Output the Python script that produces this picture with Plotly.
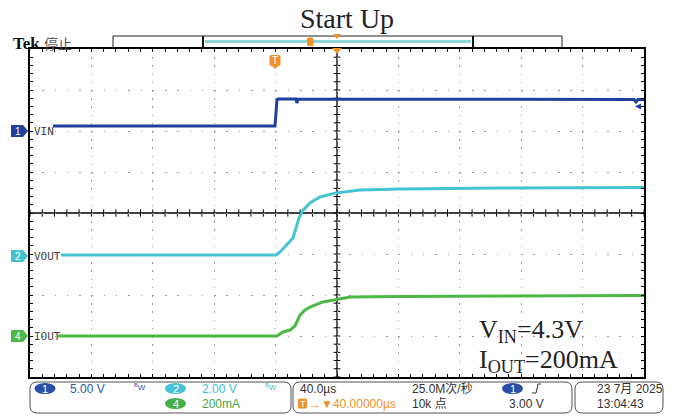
import plotly.graph_objects as go

# ---------------- data ----------------
# time in microseconds (40 us/div, screen centre = 0)
t_vin = [-185, -40.4, -39.1, -38.5, -26.7, -26.1, -25.4, 193.5, 194.8, 196.1, 200]
vin_v = [0.61, 0.61, 3.78, 3.90, 3.90, 3.41, 3.90, 3.85, 3.55, 3.85, 3.85]

t_vout = [-179.8, -39.7, -37.1, -32.6, -28.7, -26.7, -24.8, -22.1, -17.6, -11.1, -1.3, 15, 41, 106, 200]
vout_v = [0.05, 0.05, 0.20, 0.54, 0.88, 1.37, 1.85, 2.24, 2.59, 2.88, 3.07, 3.22, 3.27, 3.32, 3.34]

t_iout = [-181.8, -39.1, -35.2, -30.6, -27.4, -24.1, -20.8, -17.6, -9.1, 0, 8.5, 41, 200]
iout_ma = [0, 0, 19.5, 29, 49, 102, 127, 141, 166, 180, 190, 193, 198]

channel_names = ["VIN", "VOUT", "IOUT"]
channel_ids = ["1", "2", "4"]
channel_scales = [5.0, 2.0, 200.0]         # units per division
channel_offsets = [2.0, -1.05, -3.0]       # ground marker position, divisions
channel_colors = ["#1f3f9c", "#45c3d3", "#4cb848"]
scale_labels = ["5.00 V", "2.00 V", "200mA"]

title_text = "Start Up"
note_lines = ["V<sub>IN</sub>=4.3V", "I<sub>OUT</sub>=200mA"]
time_div = "40.0µs"
trig_pos = "40.00000µs"
sample_rate = "25.0M次/秒"
record_len = "10k 点"
trig_level = "3.00 V"
trig_level_v = 3.00
date_text = "23 7月 2025"
time_text = "13:04:43"

# ---------------- layout geometry ----------------
W, H = 676, 416
L, R, T, B = 30, 644, 49, 377


def px(x):
    return (x - L) / (R - L)


def py(y):
    return (B - y) / (B - T)


fig = go.Figure()

series = [(t_vin, vin_v), (t_vout, vout_v), (t_iout, iout_ma)]
for (tt, vv), name, sc, off, col in zip(series, channel_names, channel_scales, channel_offsets, channel_colors):
    fig.add_trace(go.Scatter(
        x=tt, y=[off + v / sc for v in vv], mode="lines", name=name,
        line=dict(color=col, width=3), hoverinfo="skip", showlegend=False))

shapes = []
annotations = []

# centre crosshair
shapes.append(dict(type="line", xref="x", yref="paper", x0=0, x1=0, y0=0, y1=1,
                   line=dict(color="black", width=1.3), layer="below"))
shapes.append(dict(type="line", xref="paper", yref="y", x0=0, x1=1, y0=0, y1=0,
                   line=dict(color="black", width=1.3), layer="below"))
for i in range(-25, 26):
    shapes.append(dict(type="line", xref="x", yref="y", x0=i * 8, x1=i * 8, y0=-0.09, y1=0.09,
                       line=dict(color="black", width=1), layer="below"))
for j in range(-20, 21):
    shapes.append(dict(type="line", xref="x", yref="y", x0=-2.2, x1=2.2, y0=j * 0.2, y1=j * 0.2,
                       line=dict(color="black", width=1), layer="below"))


def rrect(x0, y0, x1, y1, r):
    a, b, c, d = px(x0), px(x1), py(y0), py(y1)
    rx = r / (R - L)
    ry = r / (B - T)
    return (f"M{a+rx},{c} L{b-rx},{c} Q{b},{c} {b},{c-ry} L{b},{d+ry} Q{b},{d} {b-rx},{d} "
            f"L{a+rx},{d} Q{a},{d} {a},{d+ry} L{a},{c-ry} Q{a},{c} {a+rx},{c} Z")


def badge(cx, cy, num, col, w=21, h=11):
    shapes.append(dict(type="circle", xref="paper", yref="paper",
                       x0=px(cx - w / 2), x1=px(cx + w / 2), y0=py(cy + h / 2), y1=py(cy - h / 2),
                       fillcolor=col, line=dict(width=0)))
    annotations.append(dict(xref="paper", yref="paper", x=px(cx), y=py(cy), text=num, showarrow=False,
                            font=dict(family="Liberation Sans", size=11, color="white"),
                            xanchor="center", yanchor="middle"))


def text(x, y, s, col="#333", size=12, family="Liberation Sans", anchor="left"):
    annotations.append(dict(xref="paper", yref="paper", x=px(x), y=py(y), text=s, showarrow=False,
                            font=dict(family=family, size=size, color=col),
                            xanchor=anchor, yanchor="middle"))


# channel ground markers + labels
for name, cid, off, col in zip(channel_names, channel_ids, channel_offsets, channel_colors):
    a, b, c = px(11), px(23), px(28)
    h = 6 / 41
    shapes.append(dict(type="path", xref="paper", yref="y",
                       path=f"M{a},{off+h} L{b},{off+h} L{c},{off} L{b},{off-h} L{a},{off-h} Z",
                       fillcolor=col, line=dict(width=0)))
    annotations.append(dict(xref="paper", yref="y", x=px(18), y=off, text=cid, showarrow=False,
                            font=dict(family="Liberation Sans", size=10, color="white"),
                            xanchor="center", yanchor="middle"))
    annotations.append(dict(xref="paper", yref="y", x=px(32), y=off, text=name, showarrow=False,
                            font=dict(family="DejaVu Sans Mono", size=11, color="#444"),
                            xanchor="left", yanchor="middle"))

# trigger level marker (right edge)
tl = channel_offsets[0] + trig_level_v / channel_scales[0]
shapes.append(dict(type="path", xref="paper", yref="y",
                   path=f"M{px(635)},{tl} L{px(641)},{tl+3/41} L{px(641)},{tl-3/41} Z",
                   fillcolor=channel_colors[0], line=dict(width=0)))

# orange trigger marker "T"
orange = "#f0922b"
shapes.append(dict(type="path", xref="paper", yref="paper", path=rrect(269.5, 55, 280.5, 66, 2),
                   fillcolor=orange, line=dict(width=0)))
shapes.append(dict(type="path", xref="paper", yref="paper",
                   path=f"M{px(272)},{py(66)} L{px(278)},{py(66)} L{px(275)},{py(69)} Z",
                   fillcolor=orange, line=dict(width=0)))
text(275, 60.5, "T", col="white", size=10, anchor="center")

# expansion point triangles at top centre
shapes.append(dict(type="path", xref="paper", yref="paper",
                   path=f"M{px(332)},{py(48)} L{px(342)},{py(48)} L{px(337)},{py(54)} Z",
                   fillcolor=orange, line=dict(width=0)))
shapes.append(dict(type="path", xref="paper", yref="paper",
                   path=f"M{px(333)},{py(34)} L{px(341)},{py(34)} L{px(337)},{py(39)} Z",
                   fillcolor=orange, line=dict(width=0)))

# record view bar
shapes.append(dict(type="rect", xref="paper", yref="paper", x0=px(113), x1=px(562), y0=py(48.5), y1=py(36),
                   line=dict(color="#222", width=1), fillcolor="white", layer="below"))
shapes.append(dict(type="line", xref="paper", yref="paper", x0=px(205), x1=px(471), y0=py(41.5), y1=py(41.5),
                   line=dict(color="#8fd6d6", width=3)))
for xx in (203, 473):
    shapes.append(dict(type="line", xref="paper", yref="paper", x0=px(xx), x1=px(xx), y0=py(48.5), y1=py(36),
                       line=dict(color="#111", width=2)))
shapes.append(dict(type="path", xref="paper", yref="paper", path=rrect(307, 37.5, 313.5, 46, 1.5),
                   fillcolor=orange, line=dict(width=0)))

# Tek label
annotations.append(dict(xref="paper", yref="paper", x=px(11), y=py(42.5),
                        text="<b>Tek</b> <span style='font-family:Noto Sans CJK SC;color:#555;font-size:14px'>停止</span>",
                        showarrow=False, font=dict(family="Liberation Serif", size=17, color="#111"),
                        xanchor="left", yanchor="middle"))

# title
text(346.5, 18, title_text, col="#222", size=28, family="Liberation Serif", anchor="center")

# operating conditions note
text(477, 331, note_lines[0], col="#222", size=26, family="Liberation Serif")
text(477, 361, note_lines[1], col="#222", size=26, family="Liberation Serif")

# status bar boxes
for x0, x1 in ((30, 291), (293, 572), (575, 663)):
    shapes.append(dict(type="path", xref="paper", yref="paper", path=rrect(x0, 382, x1, 413, 7),
                       line=dict(color="#555", width=1), fillcolor="rgba(0,0,0,0)"))

c1, c2, c4 = "#2f55a8", "#45bcd0", "#3fa845"
badge(45, 388.5, "1", "#2a4fa5")
text(68, 388.5, scale_labels[0], col=c1)
text(132, 387, "<sup>B</sup>W", col=c1, size=8)
badge(175.5, 388.5, "2", "#45c3d3")
text(200, 388.5, scale_labels[1], col=c2)
text(263, 387, "<sup>B</sup>W", col=c2, size=8)
badge(175.5, 403.5, "4", "#45b04a")
text(200, 403.5, scale_labels[2], col=c4)

text(298, 388.5, time_div, col="#333")
shapes.append(dict(type="path", xref="paper", yref="paper", path=rrect(298, 398.5, 307, 408.5, 1.5),
                   fillcolor=orange, line=dict(width=0)))
text(302.5, 403.5, "T", col="white", size=9, anchor="center")
text(307, 403.5, "→▼" + trig_pos, col=orange)

text(410, 388.5, sample_rate, col="#333", family="Liberation Sans, Noto Sans CJK SC")
text(410, 403.5, record_len, col="#333", family="Liberation Sans, Noto Sans CJK SC")

badge(512.5, 388.5, "1", "#2a4fa5")
shapes.append(dict(type="path", xref="paper", yref="paper",
                   path=f"M{px(532)},{py(393)} L{px(536)},{py(393)} L{px(538)},{py(384)} L{px(541)},{py(384)}",
                   line=dict(color="#333", width=1)))
text(507, 403.5, trig_level, col="#333")

text(595, 388.5, date_text, col="#333", family="Liberation Sans, Noto Sans CJK SC")
text(595, 403.5, time_text, col="#333")

fig.update_layout(
    width=W, height=H,
    margin=dict(l=L, r=W - R, t=T, b=H - B, pad=0),
    paper_bgcolor="white", plot_bgcolor="white",
    shapes=shapes, annotations=annotations,
    xaxis=dict(range=[-200, 200], dtick=40, tick0=0, showticklabels=False,
               ticks="inside", ticklen=3, tickcolor="black",
               showline=True, linecolor="black", linewidth=1.5, mirror="allticks",
               showgrid=True, gridcolor="#9a9a9a", gridwidth=1, griddash="1.5px,6.7px",
               zeroline=False, fixedrange=True,
               minor=dict(dtick=8, ticks="inside", ticklen=3, tickcolor="black", showgrid=False)),
    yaxis=dict(range=[-4, 4], dtick=1, tick0=0, showticklabels=False,
               ticks="inside", ticklen=3, tickcolor="black",
               showline=True, linecolor="black", linewidth=1.5, mirror="allticks",
               showgrid=True, gridcolor="#9a9a9a", gridwidth=1, griddash="1.5px,10.78px",
               zeroline=False, fixedrange=True,
               minor=dict(dtick=0.2, ticks="inside", ticklen=3, tickcolor="black", showgrid=False)),
)

fig.write_html("out.html", config={"displayModeBar": False},
               post_script="document.body.style.margin='0';document.body.style.overflow='hidden';")
